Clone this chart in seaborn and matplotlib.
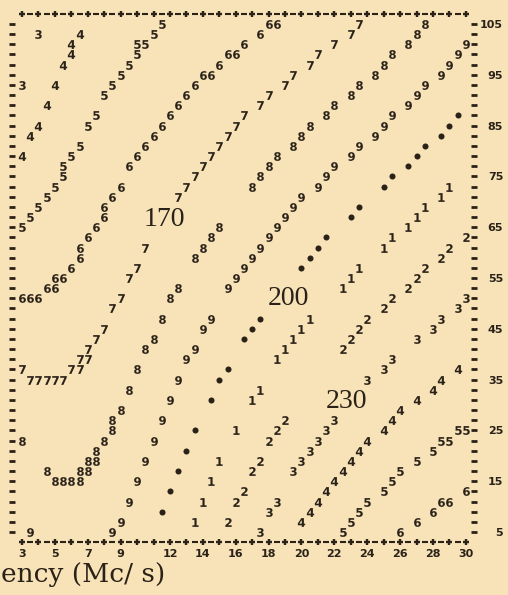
import seaborn as sns
import matplotlib.pyplot as plt

# line-printer contour plot: every point is one printed character,
# the symbol is the tens digit of the level (0 is printed as a dot)
lev130_x = [4, 3]
lev130_y = [103, 93]
lev140_x = [6.5, 6, 6, 5.5, 5, 4.5, 4, 3.5, 3]
lev140_y = [103, 101, 99, 97, 93, 89, 85, 83, 79]
lev150_x = [11.5, 11, 10, 10.5, 10, 9.5, 9, 8.5, 8, 7.5, 7, 6.5, 6, 5.5, 5.5, 5, 4.5, 4, 3.5, 3]
lev150_y = [105, 103, 101, 101, 99, 97, 95, 93, 91, 87, 85, 81, 79, 77, 75, 73, 71, 69, 67, 65]
lev160_x = [18, 18.5, 17.5, 16.5, 15.5, 16, 15, 14, 14.5, 13.5, 13, 12.5, 12, 11.5, 11, 10.5, 10,
            9.5, 9, 8.5, 8, 8, 7.5, 7, 6.5, 6.5, 6, 5, 5.5, 4.5, 5, 3, 3.5, 4]
lev160_y = [105, 105, 103, 101, 99, 99, 97, 95, 95, 93, 91, 89, 87, 85, 83, 81, 79,
            77, 73, 71, 69, 67, 65, 63, 61, 59, 57, 55, 55, 53, 53, 51, 51, 51]
lev170_x = [23.5, 23, 22, 21, 20.5, 19.5, 19, 18, 17.5, 16.5, 16, 15.5, 15, 14.5, 14, 13.5, 13, 12.5,
            10.5, 10, 9.5, 9, 8.5, 8, 7.5, 7, 6.5, 7, 6, 6.5, 3, 3.5, 4, 4.5, 5, 5.5]
lev170_y = [105, 103, 101, 99, 97, 95, 93, 91, 89, 87, 85, 83, 81, 79, 77, 75, 73, 71,
            61, 57, 55, 51, 49, 45, 43, 41, 39, 39, 37, 37, 37, 35, 35, 35, 35, 35]
lev180_x = [27.5, 27, 26.5, 25.5, 25, 24.5, 23.5, 23, 22, 21.5, 20.5, 20, 19.5, 18.5, 18, 17.5, 17,
            15, 14.5, 14, 13.5, 12.5, 12, 11.5, 11, 10.5, 10, 9.5, 9, 8.5, 8.5, 8, 7.5, 7, 7.5,
            6.5, 7, 4.5, 5, 5.5, 6, 6.5, 3]
lev180_y = [105, 103, 101, 99, 97, 95, 93, 91, 89, 87, 85, 83, 81, 79, 77, 75, 73,
            65, 63, 61, 59, 53, 51, 47, 43, 41, 37, 33, 29, 27, 25, 23, 21, 19, 19,
            17, 17, 17, 15, 15, 15, 15, 23]
lev190_x = [30, 29.5, 29, 28.5, 27.5, 27, 26.5, 25.5, 25, 24.5, 23.5, 23, 22, 21.5, 21, 20, 19.5,
            19, 18.5, 18, 17.5, 17, 16.5, 16, 15.5, 14.5, 14, 13.5, 13, 12.5, 12, 11.5, 11, 10.5,
            10, 9.5, 9, 8.5, 3.5]
lev190_y = [101, 99, 97, 95, 93, 91, 89, 87, 85, 83, 81, 79, 77, 75, 73, 71, 69,
            67, 65, 63, 61, 59, 57, 55, 53, 47, 45, 41, 39, 35, 31, 27, 23, 19,
            15, 11, 7, 5, 5]
lev200_x = [29.5, 29, 28.5, 27.5, 27, 26.5, 25.5, 25, 23.5, 23, 21.5, 21, 20.5, 20, 17.5, 17, 16.5,
            15.5, 15, 14.5, 13.5, 13, 12.5, 12, 11.5]
lev200_y = [87, 85, 83, 81, 79, 77, 75, 73, 69, 67, 63, 61, 59, 57, 47, 45, 43,
            37, 35, 31, 25, 21, 17, 13, 9]
lev210_x = [29, 28.5, 27.5, 27, 26.5, 25.5, 25, 23.5, 23, 22.5, 20.5, 20, 19.5, 19, 18.5, 17.5, 17,
            16, 15, 14.5, 14, 13.5]
lev210_y = [73, 71, 69, 67, 65, 63, 61, 57, 55, 53, 47, 45, 43, 41, 39, 33, 31,
            25, 19, 15, 11, 7]
lev220_x = [30, 29, 28.5, 27.5, 27, 26.5, 25.5, 25, 24, 23.5, 23, 22.5, 19, 18.5, 18, 17.5, 17,
            16.5, 16, 15.5]
lev220_y = [63, 61, 59, 57, 55, 53, 51, 49, 47, 45, 43, 41, 27, 25, 23, 19, 17, 13, 11, 7]
lev230_x = [30, 29.5, 28.5, 28, 27, 25.5, 25, 24, 22, 21.5, 21, 20.5, 20, 19.5, 18.5, 18, 17.5]
lev230_y = [51, 49, 47, 45, 43, 39, 37, 35, 27, 25, 23, 21, 19, 17, 11, 9, 5]
lev240_x = [29.5, 28.5, 28, 27, 26, 25.5, 25, 24, 23.5, 23, 22.5, 22, 21.5, 21, 20.5, 20]
lev240_y = [37, 35, 33, 31, 29, 27, 25, 23, 21, 19, 17, 15, 13, 11, 9, 7]
lev250_x = [29.5, 30, 28.5, 29, 28, 27, 26, 25.5, 25, 24, 23.5, 23, 22.5]
lev250_y = [25, 25, 23, 23, 21, 19, 17, 15, 13, 11, 9, 7, 5]
lev260_x = [30, 28.5, 29, 28, 27, 26]
lev260_y = [13, 11, 11, 9, 7, 5]

label_text = ["170", "200", "230"]
label_x = [11.64, 19.21, 22.74]
label_y = [65.3, 49.7, 29.4]

freq_ticks = [3, 5, 7, 9, 12, 14, 16, 18, 20, 22, 24, 26, 28, 30]
right_ticks = [5, 15, 25, 35, 45, 55, 65, 75, 85, 95, 105]
# the page is cropped, only the end of the axis title is visible
xlabel_visible = "ency (Mc/ s)"

levels = [
    (130, lev130_x, lev130_y), (140, lev140_x, lev140_y), (150, lev150_x, lev150_y),
    (160, lev160_x, lev160_y), (170, lev170_x, lev170_y), (180, lev180_x, lev180_y),
    (190, lev190_x, lev190_y), (200, lev200_x, lev200_y), (210, lev210_x, lev210_y),
    (220, lev220_x, lev220_y), (230, lev230_x, lev230_y), (240, lev240_x, lev240_y),
    (250, lev250_x, lev250_y), (260, lev260_x, lev260_y),
]

bg = "#f7e3b7"
ink = "#2a2118"

sns.set_theme(style="white", rc={"axes.facecolor": bg, "figure.facecolor": bg})
plt.rcParams["font.family"] = ["DejaVu Sans"]

fig = plt.figure(figsize=(5.08, 5.95), dpi=100)
ax = fig.add_axes([0.010945, 0.08027, 0.93851, 0.913545])
ax.set_xlim(2, 31)
ax.set_ylim(2, 109)
for s in ax.spines.values():
    s.set_visible(False)

# printer frame: +-+- rows top and bottom, dash columns on both sides
plus_x = list(range(freq_ticks[0], freq_ticks[-1] + 1))
dash_x = [v + 0.5 for v in plus_x[:-1]]
rows = list(range(5, 106, 2))
for yb in (3, 107):
    ax.plot(plus_x, [yb] * len(plus_x), ls="none", marker="+", ms=5, mew=1.7, color=ink)
    ax.plot(dash_x, [yb] * len(dash_x), ls="none", marker="_", ms=4, mew=1.5, color=ink)
for xc in (2.4, 30.5):
    ax.plot([xc] * len(rows), rows, ls="none", marker="_", ms=4.5, mew=2, color=ink)

for level, xs, ys in levels:
    digit = (level // 10) % 10
    if digit == 0:
        sns.scatterplot(x=xs, y=ys, marker="o", s=19, color=ink, linewidth=0, ax=ax, legend=False)
    else:
        sns.scatterplot(x=xs, y=ys, marker=f"$\\mathbf{{{digit}}}$", s=40, color=ink,
                        linewidth=0, ax=ax, legend=False)

for t, lx, ly in zip(label_text, label_x, label_y):
    ax.text(lx, ly, t, ha="center", va="baseline", fontsize=20,
            family="Liberation Serif", color=ink)

ax.set_xticks(freq_ticks, [str(v) for v in freq_ticks])
ax.tick_params(axis="x", length=0, pad=1, labelsize=8, colors=ink)
ax.yaxis.tick_right()
ax.set_yticks(right_ticks, [str(v) for v in right_ticks])
ax.tick_params(axis="y", length=0, pad=15, labelsize=8, colors=ink)
for lbl in ax.get_xticklabels() + ax.get_yticklabels():
    lbl.set_fontweight("bold")
for lbl in ax.get_yticklabels():
    lbl.set_horizontalalignment("right")

fig.text(1 / 508, 13 / 595, xlabel_visible, ha="left", va="baseline",
         fontsize=19, family="DejaVu Serif", color=ink)

fig.savefig("out.png", dpi=100)
